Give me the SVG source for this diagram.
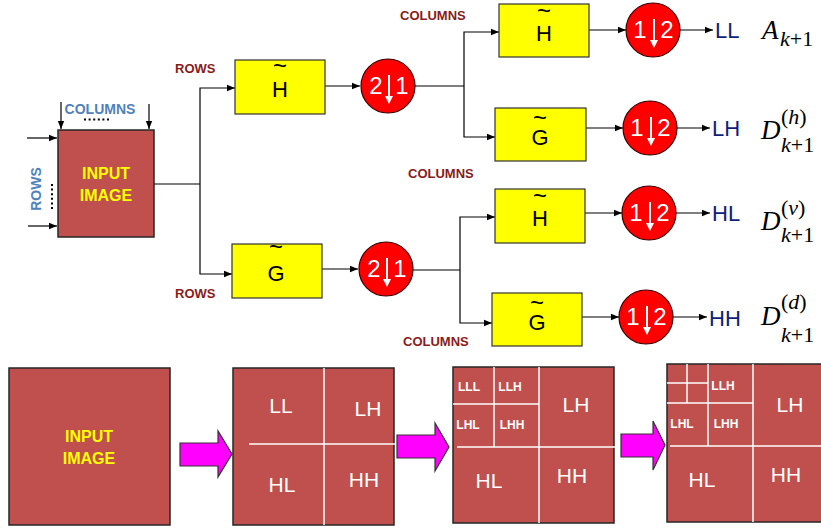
<svg xmlns="http://www.w3.org/2000/svg" width="821" height="529" viewBox="0 0 821 529">
<defs>
<marker id="ah" markerUnits="userSpaceOnUse" markerWidth="8" markerHeight="8" refX="8" refY="4" orient="auto">
<path d="M0,0.8 L8,4 L0,7.2 Z" fill="#000"/>
</marker>
<g id="dn">
<line x1="0" y1="-11" x2="0" y2="11" stroke="#fff" stroke-width="2"/>
<path d="M-4,10 L4,10 L0,18 Z" fill="#fff"/>
</g>
</defs>
<style>
.c{fill:none;stroke:#000;stroke-width:1.2}
.a{marker-end:url(#ah)}
.box{fill:#ffff00;stroke:#333;stroke-width:1.2}
.ds{fill:#ff0000;stroke:#3a0000;stroke-width:1.2}
.img{fill:#c0504d;stroke:#262626;stroke-width:1.5}
.s{font-family:"Liberation Sans",Arial,sans-serif}
.ft{font-size:22px;fill:#000;text-anchor:middle}
.tl{font-size:24px}
.dig{font-size:24px;fill:#fff;text-anchor:middle}
.lab{font-size:13px;font-weight:bold;fill:#8b1a1a}
.blue{font-size:14px;font-weight:bold;fill:#4f81bd}
.out{font-size:22px;fill:#0f1e78}
.yl{font-size:16px;font-weight:bold;fill:#ffff00;text-anchor:middle}
.w{fill:#fff;text-anchor:middle}
.big{font-size:21px}
.sm{font-size:12px;font-weight:bold}
.wl{stroke:#fff;stroke-width:1.5}
.m{font-family:"Liberation Serif","Times New Roman",serif;fill:#000}
.arr{fill:#ff00ff;stroke:#333;stroke-width:1.2}
</style>

<!-- connectors -->
<g id="connectors">
<line class="c a" x1="27" y1="138" x2="57" y2="138"/>
<line class="c a" x1="28" y1="226" x2="57" y2="226"/>
<line class="c a" x1="61" y1="102" x2="61" y2="129"/>
<line class="c a" x1="149" y1="104" x2="149" y2="129"/>
<polyline class="c" points="154,184 200,184"/>
<polyline class="c a" points="200,184 200,88 235,88"/>
<polyline class="c a" points="200,184 200,274 232,274"/>
<line class="c a" x1="325" y1="86" x2="360" y2="86"/>
<line class="c a" x1="322" y1="269" x2="358" y2="269"/>
<polyline class="c" points="415,86 464,86"/>
<polyline class="c a" points="464,86 464,32 499,32"/>
<polyline class="c a" points="464,86 464,137 495,137"/>
<polyline class="c" points="413,270 460,270"/>
<polyline class="c a" points="460,270 460,217 495,217"/>
<polyline class="c a" points="460,270 460,323 492,323"/>
<line class="c a" x1="589" y1="30" x2="626" y2="30"/>
<line class="c a" x1="586" y1="128" x2="623" y2="128"/>
<line class="c a" x1="585" y1="213" x2="622" y2="213"/>
<line class="c a" x1="582" y1="317" x2="619" y2="317"/>
<line class="c a" x1="680" y1="30" x2="713" y2="30"/>
<line class="c a" x1="677" y1="128" x2="710" y2="128"/>
<line class="c a" x1="676" y1="213" x2="710" y2="213"/>
<line class="c a" x1="673" y1="317" x2="707" y2="317"/>
</g>

<!-- input image -->
<g id="input">
<rect class="img" x="58" y="130" width="96" height="107"/>
<text class="s yl" x="106" y="179">INPUT</text>
<text class="s yl" x="106" y="201">IMAGE</text>
<text class="s blue" x="100" y="114" text-anchor="middle">COLUMNS</text>
<line x1="84" y1="119.5" x2="111" y2="119.5" stroke="#000" stroke-width="2" stroke-dasharray="2 2.6"/>
<text class="s blue" transform="translate(41,189) rotate(-90)" text-anchor="middle">ROWS</text>
<line x1="52" y1="184" x2="52" y2="211" stroke="#000" stroke-width="2" stroke-dasharray="2 2.6"/>
</g>

<text class="s lab" x="175" y="73">ROWS</text>
<text class="s lab" x="175" y="298">ROWS</text>
<text class="s lab" x="400" y="20">COLUMNS</text>
<text class="s lab" x="408" y="178">COLUMNS</text>
<text class="s lab" x="403" y="346">COLUMNS</text>

<!-- filters -->
<g id="h1">
<rect class="box" x="235" y="60" width="90" height="54"/>
<text class="s ft"><tspan class="tl" x="280" y="74">~</tspan><tspan x="280" y="97">H</tspan></text>
</g>
<g id="g1">
<rect class="box" x="232" y="244" width="90" height="54"/>
<text class="s ft"><tspan class="tl" x="276" y="255">~</tspan><tspan x="276" y="281">G</tspan></text>
</g>
<g id="h2">
<rect class="box" x="499" y="4" width="90" height="53"/>
<text class="s ft"><tspan class="tl" x="544" y="19">~</tspan><tspan x="544" y="41">H</tspan></text>
</g>
<g id="g2">
<rect class="box" x="495" y="108" width="91" height="53"/>
<text class="s ft"><tspan class="tl" x="540" y="126">~</tspan><tspan x="540" y="145">G</tspan></text>
</g>
<g id="h3">
<rect class="box" x="495" y="189" width="90" height="54"/>
<text class="s ft"><tspan class="tl" x="540" y="204">~</tspan><tspan x="540" y="226">H</tspan></text>
</g>
<g id="g3">
<rect class="box" x="492" y="293" width="90" height="53"/>
<text class="s ft"><tspan class="tl" x="537" y="311">~</tspan><tspan x="537" y="330">G</tspan></text>
</g>

<!-- downsamplers -->
<g id="d1">
<circle class="ds" cx="388" cy="86" r="27"/>
<text class="s dig" x="376" y="94">2</text>
<text class="s dig" x="402" y="94">1</text>
<use href="#dn" x="389" y="86"/>
</g>
<g id="d2">
<circle class="ds" cx="386" cy="269" r="27"/>
<text class="s dig" x="374" y="277">2</text>
<text class="s dig" x="400" y="277">1</text>
<use href="#dn" x="387" y="269"/>
</g>
<g id="d3">
<circle class="ds" cx="653" cy="30" r="27"/>
<text class="s dig" x="640" y="38">1</text>
<text class="s dig" x="667" y="38">2</text>
<use href="#dn" x="654" y="30"/>
</g>
<g id="d4">
<circle class="ds" cx="650" cy="128" r="27"/>
<text class="s dig" x="637" y="136">1</text>
<text class="s dig" x="664" y="136">2</text>
<use href="#dn" x="651" y="128"/>
</g>
<g id="d5">
<circle class="ds" cx="649" cy="213" r="27"/>
<text class="s dig" x="636" y="221">1</text>
<text class="s dig" x="663" y="221">2</text>
<use href="#dn" x="650" y="213"/>
</g>
<g id="d6">
<circle class="ds" cx="646" cy="317" r="27"/>
<text class="s dig" x="633" y="325">1</text>
<text class="s dig" x="660" y="325">2</text>
<use href="#dn" x="647" y="317"/>
</g>

<!-- outputs -->
<g id="o1"><text class="s out" x="715" y="38">LL</text>
<text class="m" x="762" y="39" font-size="27" font-style="italic">A</text>
<text class="m" x="780" y="46" font-size="22"><tspan font-style="italic">k</tspan>+1</text></g>
<g id="o2"><text class="s out" x="712" y="136">LH</text>
<text class="m" x="761" y="139" font-size="27" font-style="italic">D</text>
<text class="m" x="781" y="124" font-size="22">(<tspan font-style="italic">h</tspan>)</text>
<text class="m" x="781" y="152" font-size="22"><tspan font-style="italic">k</tspan>+1</text></g>
<g id="o3"><text class="s out" x="712" y="221">HL</text>
<text class="m" x="761" y="230" font-size="27" font-style="italic">D</text>
<text class="m" x="781" y="215" font-size="22">(<tspan font-style="italic">v</tspan>)</text>
<text class="m" x="781" y="242" font-size="22"><tspan font-style="italic">k</tspan>+1</text></g>
<g id="o4"><text class="s out" x="709" y="326">HH</text>
<text class="m" x="761" y="325" font-size="27" font-style="italic">D</text>
<text class="m" x="781" y="309" font-size="22">(<tspan font-style="italic">d</tspan>)</text>
<text class="m" x="781" y="342" font-size="22"><tspan font-style="italic">k</tspan>+1</text></g>

<!-- bottom row -->
<g id="p1">
<rect class="img" x="9" y="368" width="161" height="157"/>
<text class="s yl" x="89" y="442" font-size="15">INPUT</text>
<text class="s yl" x="89" y="464" font-size="15">IMAGE</text>
</g>
<polygon id="arrow1" class="arr" points="180,443 218,443 218,431 232,454 218,477 218,466 180,466"/>
<g id="p2">
<rect class="img" x="233" y="368" width="161" height="157"/>
<line class="wl" x1="324" y1="368" x2="324" y2="525"/>
<line class="wl" x1="249" y1="444" x2="398" y2="444"/>
<text class="s w big" x="281" y="413">LL</text>
<text class="s w big" x="368" y="416">LH</text>
<text class="s w big" x="282" y="492">HL</text>
<text class="s w big" x="364" y="487">HH</text>
</g>
<polygon id="arrow2" class="arr" points="397,435 435,435 435,423 449,447 435,471 435,458 397,458"/>
<g id="p3">
<rect class="img" x="453" y="367" width="161" height="156"/>
<line class="wl" x1="539" y1="367" x2="539" y2="523"/>
<line class="wl" x1="457" y1="447" x2="616" y2="447"/>
<line class="wl" x1="494" y1="367" x2="494" y2="447"/>
<line class="wl" x1="453" y1="404" x2="539" y2="404"/>
<text class="s w sm" x="469" y="391">LLL</text>
<text class="s w sm" x="510" y="391">LLH</text>
<text class="s w sm" x="468" y="429">LHL</text>
<text class="s w sm" x="512" y="429">LHH</text>
<text class="s w big" x="576" y="412">LH</text>
<text class="s w big" x="489" y="488">HL</text>
<text class="s w big" x="572" y="483">HH</text>
</g>
<polygon id="arrow3" class="arr" points="621,434 653,434 653,421 665,445 653,470 653,457 621,457"/>
<g id="p4">
<rect class="img" x="667" y="364" width="155" height="158"/>
<line class="wl" x1="753" y1="364" x2="753" y2="522"/>
<line class="wl" x1="670" y1="446" x2="821" y2="446"/>
<line class="wl" x1="708" y1="364" x2="708" y2="446"/>
<line class="wl" x1="667" y1="403" x2="753" y2="403"/>
<line class="wl" x1="687" y1="364" x2="687" y2="403"/>
<line class="wl" x1="667" y1="383" x2="708" y2="383"/>
<text class="s w sm" x="723" y="390">LLH</text>
<text class="s w sm" x="682" y="428">LHL</text>
<text class="s w sm" x="726" y="428">LHH</text>
<text class="s w big" x="790" y="412">LH</text>
<text class="s w big" x="702" y="487">HL</text>
<text class="s w big" x="786" y="482">HH</text>
</g>
</svg>
